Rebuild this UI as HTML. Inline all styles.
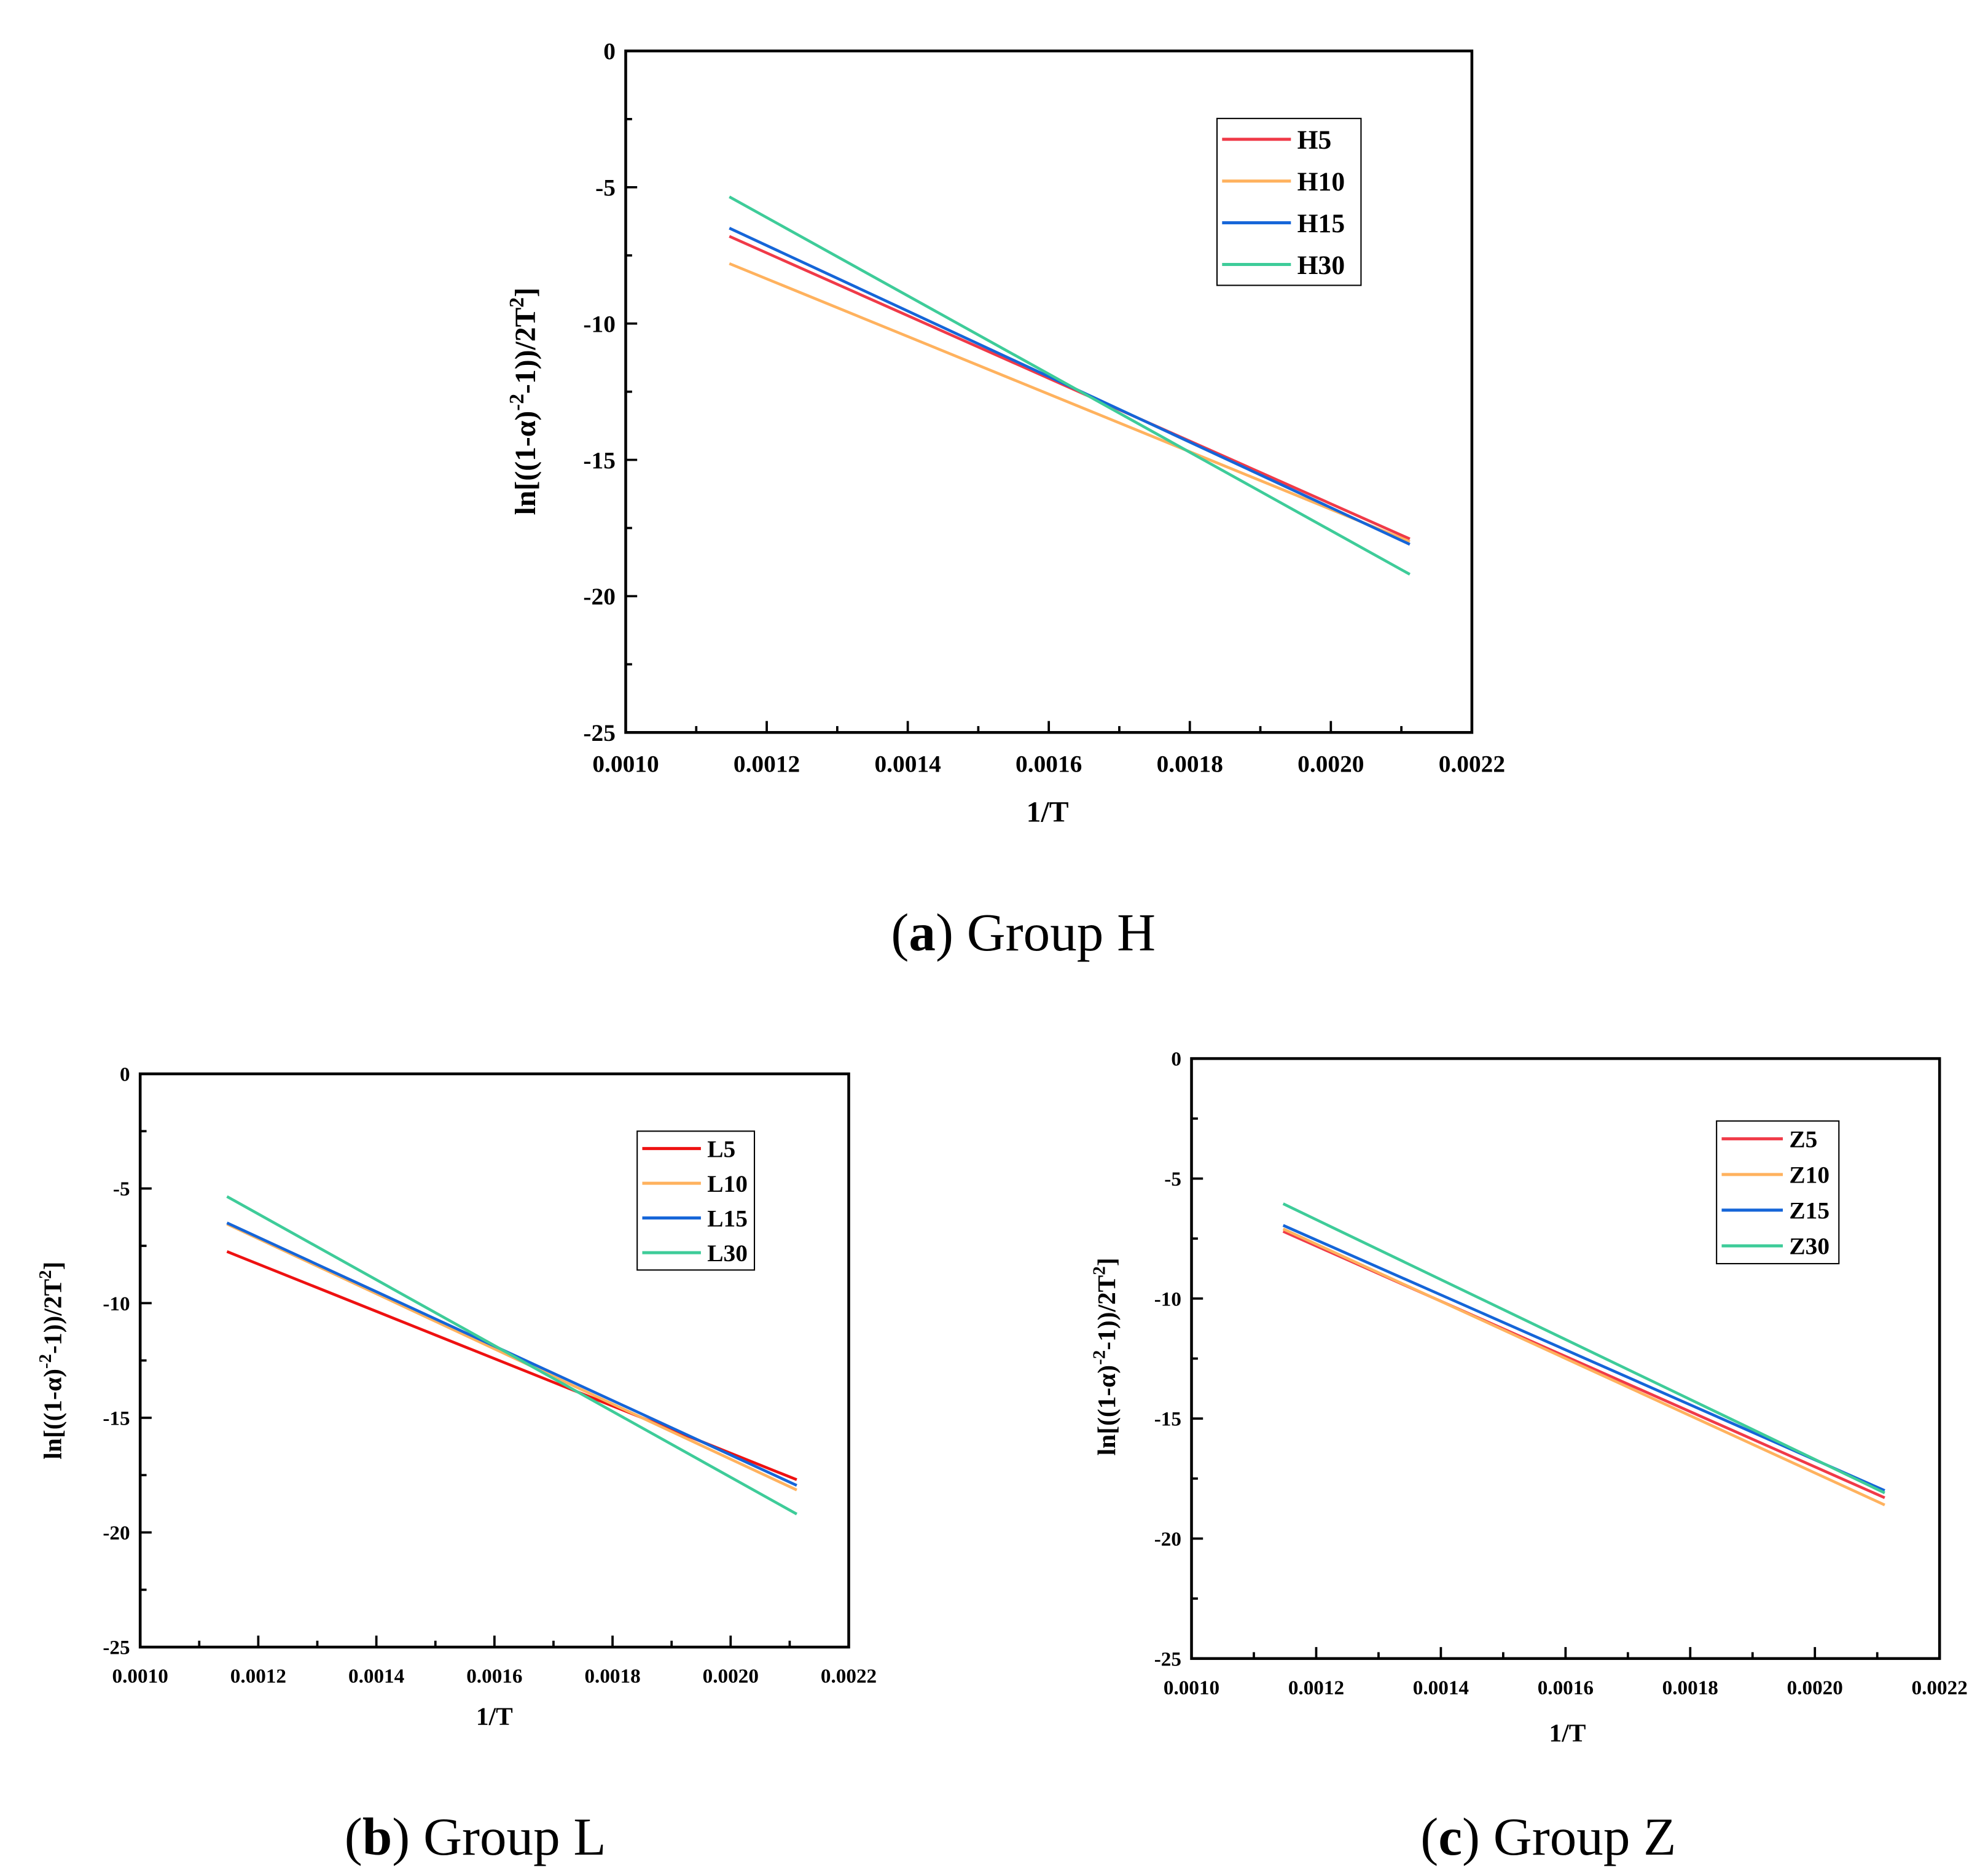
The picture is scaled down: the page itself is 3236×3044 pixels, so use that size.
<!DOCTYPE html>
<html><head><meta charset="utf-8"><style>
html,body{margin:0;padding:0;background:#fff;width:3236px;height:3044px;overflow:hidden}
svg{display:block}
text{font-family:"Liberation Serif",serif;}
</style></head><body>
<svg id="fig" width="3236" height="3044" viewBox="0 0 1560 1468" preserveAspectRatio="none" xmlns="http://www.w3.org/2000/svg"></svg>
<script>
// Data
const xStart = 0.001147, xEnd = 0.002112;
const xTicks = ["0.0010","0.0012","0.0014","0.0016","0.0018","0.0020","0.0022"];
const yTicks = ["0","-5","-10","-15","-20","-25"];
const hNames = ["H5","H10","H15","H30"];
const hStart = [-6.8,-7.8,-6.5,-5.35];
const hEnd = [-17.9,-18.0,-18.1,-19.2];
const lNames = ["L5","L10","L15","L30"];
const lStart = [-7.75,-6.55,-6.5,-5.35];
const lEnd = [-17.7,-18.15,-17.95,-19.2];
const zNames = ["Z5","Z10","Z15","Z30"];
const zStart = [-7.2,-7.1,-6.95,-6.05];
const zEnd = [-18.3,-18.6,-18.0,-18.1];

const NS="http://www.w3.org/2000/svg";
const svg=document.getElementById('fig');
function mk(tag,attrs,parent,txt){const e=document.createElementNS(NS,tag);for(const k in attrs)e.setAttribute(k,attrs[k]);if(txt!==undefined)e.textContent=txt;(parent||svg).appendChild(e);return e;}

function chart(cfg){
  const g=mk('g',{});
  
  
  const L=cfg.l,R=cfg.r,T=cfg.t,B=cfg.b;
  const xs=v=>L+(v-0.0010)/(0.0012)*(R-L);
  const ys=v=>T+(-v)/25*(B-T);
  for(let i=0;i<=12;i++){
    const x=L+i*(R-L)/12, len=i%2?5:9;
    const t=mk('line',{x1:x,x2:x,y1:B,y2:B-len,stroke:'#000','stroke-width':1.8},g);
    
    
  }
  xTicks.forEach((s,i)=>{
    const t=mk('text',{x:L+i*(R-L)/6,y:B+cfg.fs+12,'text-anchor':'middle','font-size':cfg.fs,'font-weight':'bold'},g,s);
    
    
  });
  for(let i=0;i<=10;i++){
    const y=T+i*(B-T)/10, len=i%2?5:9;
    const t=mk('line',{x1:L,x2:L+len,y1:y,y2:y,stroke:'#000','stroke-width':1.8},g);
    
    
  }
  yTicks.forEach((s,i)=>{
    const t=mk('text',{x:L-8,y:T+i*(B-T)/5+cfg.fs*0.35,'text-anchor':'end','font-size':cfg.fs,'font-weight':'bold'},g,s);
    
    
  });
  const fr=mk('rect',{x:L,y:T,width:R-L,height:B-T,fill:'none',stroke:'#000','stroke-width':2.2},g);
  
  
  cfg.names.forEach((n,i)=>{
    const ln=mk('line',{x1:xs(xStart),y1:ys(cfg.s[i]),x2:xs(xEnd),y2:ys(cfg.e[i]),stroke:cfg.colors[i],'stroke-width':2.2},g);
    
    
  });
  const lg=mk('g',{},g);
  
  
  mk('rect',{x:cfg.lx,y:cfg.ly,width:cfg.lw,height:cfg.lh,fill:'#fff',stroke:'#000','stroke-width':1},lg);
  const step=cfg.lh/4;
  cfg.names.forEach((n,i)=>{
    const y=cfg.ly+step*(i+0.5);
    const ln=mk('line',{x1:cfg.lx+4,x2:cfg.lx+cfg.ll,y1:y,y2:y,stroke:cfg.colors[i],'stroke-width':2.4},lg);
    
    
    const t=mk('text',{x:cfg.lx+cfg.ll+5,y:y+cfg.lfs*0.35,'font-size':cfg.lfs,'font-weight':'bold'},lg,n);
    
    
  });
  const xt=mk('text',{x:cfg.xtx,y:cfg.xty,'text-anchor':'middle','font-size':cfg.tfs,'font-weight':'bold'},g,'1/T');
  
  
  const yt=mk('text',{x:0,y:0,'text-anchor':'middle','font-size':cfg.tfs,'font-weight':'bold',transform:`translate(${cfg.ytx},${cfg.yty}) rotate(-90)`},g);
  
  
  const sp=cfg.tfs*0.7, d=cfg.tfs*0.4;
  yt.innerHTML='ln[((1-α)<tspan dy="-'+d+'" font-size="'+sp+'">-2</tspan><tspan dy="'+d+'">-1))/2T</tspan><tspan dy="-'+d+'" font-size="'+sp+'">2</tspan><tspan dy="'+d+'">]</tspan>';
  const cp=mk('text',{x:cfg.cx,y:cfg.cy,'text-anchor':'middle','font-size':42},g);
  
  
  cp.innerHTML='(<tspan font-weight="bold">'+cfg.letter+'</tspan>) Group '+cfg.grp;
}
const colH=['#f03a48','#ffb25e','#1565d8','#3ecc99'];
const colL=['#ee1111','#ffb25e','#1565d8','#3ecc99'];
chart({id:'group-h',l:491,r:1155,t:40,b:575,names:hNames,s:hStart,e:hEnd,colors:colH,fs:19,tfs:23,lfs:21,
  lx:955,ly:93,lw:113,lh:131,ll:58,xtx:822,xty:645,ytx:420,yty:315,cx:803,cy:746,letter:'a',grp:'H'});
chart({id:'group-l',l:110,r:666,t:843,b:1293,names:lNames,s:lStart,e:lEnd,colors:colL,fs:16,tfs:20,lfs:19,
  lx:500,ly:888,lw:92,lh:109,ll:50,xtx:388,xty:1354,ytx:48,yty:1068,cx:373,cy:1456,letter:'b',grp:'L'});
chart({id:'group-z',l:935,r:1522,t:831,b:1302,names:zNames,s:zStart,e:zEnd,colors:colH,fs:16,tfs:20,lfs:19,
  lx:1347,ly:880,lw:96,lh:112,ll:52,xtx:1230,xty:1367,ytx:875,yty:1065,cx:1215,cy:1456,letter:'c',grp:'Z'});
</script>
</body></html>
